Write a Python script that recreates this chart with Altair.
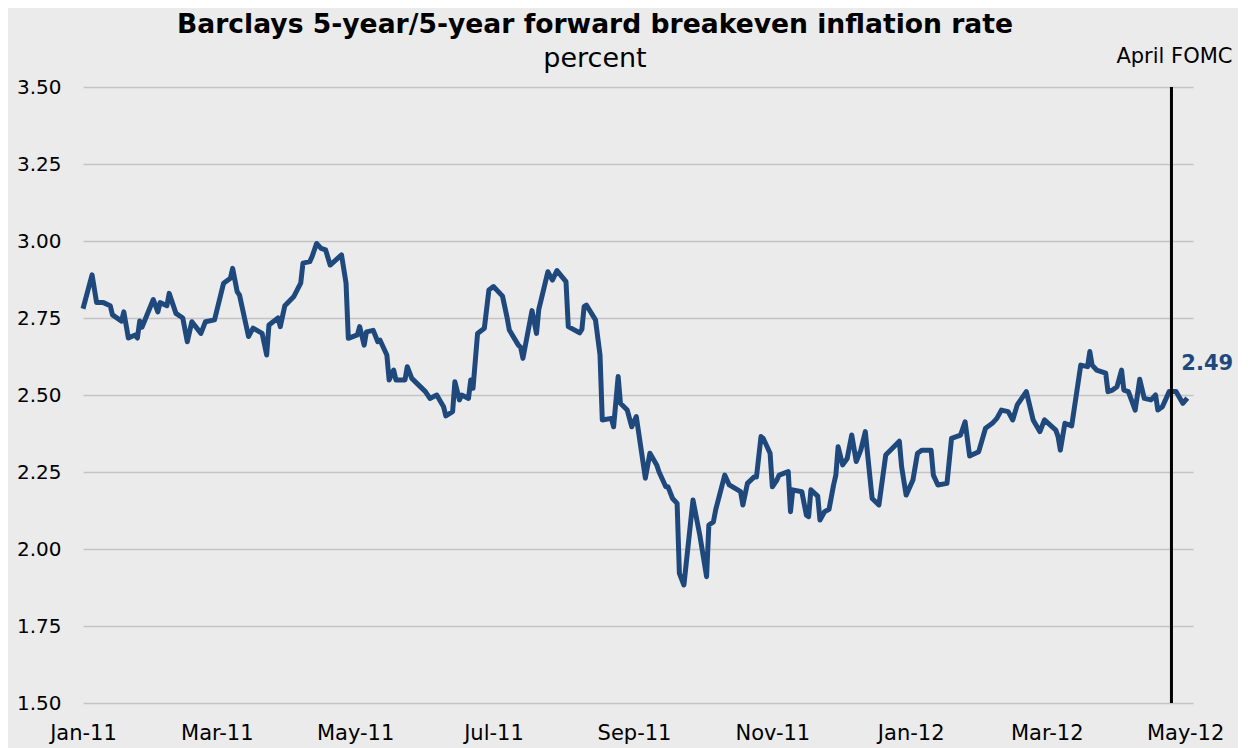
import altair as alt
import pandas as pd

# ---- data ----
dates = [
    "2011-01-01", "2011-01-05", "2011-01-07", "2011-01-10", "2011-01-13", "2011-01-14",
    "2011-01-18", "2011-01-19", "2011-01-21", "2011-01-24", "2011-01-25", "2011-01-26",
    "2011-01-27", "2011-02-01", "2011-02-03", "2011-02-04", "2011-02-07", "2011-02-08",
    "2011-02-11", "2011-02-14", "2011-02-16", "2011-02-18", "2011-02-22", "2011-02-24",
    "2011-02-28", "2011-03-04", "2011-03-07", "2011-03-08", "2011-03-10", "2011-03-11",
    "2011-03-15", "2011-03-17", "2011-03-21", "2011-03-23", "2011-03-24", "2011-03-28",
    "2011-03-29", "2011-03-31", "2011-04-04", "2011-04-07", "2011-04-08", "2011-04-11",
    "2011-04-12", "2011-04-14", "2011-04-16", "2011-04-18", "2011-04-20", "2011-04-25",
    "2011-04-27", "2011-04-28", "2011-05-02", "2011-05-03", "2011-05-05", "2011-05-06",
    "2011-05-09", "2011-05-11", "2011-05-12", "2011-05-15", "2011-05-16", "2011-05-18",
    "2011-05-19", "2011-05-23", "2011-05-24", "2011-05-26", "2011-06-01", "2011-06-03",
    "2011-06-06", "2011-06-09", "2011-06-10", "2011-06-13", "2011-06-14", "2011-06-16",
    "2011-06-17", "2011-06-20", "2011-06-21", "2011-06-22", "2011-06-24", "2011-06-27",
    "2011-06-29", "2011-07-01", "2011-07-05", "2011-07-07", "2011-07-08", "2011-07-12",
    "2011-07-13", "2011-07-14", "2011-07-18", "2011-07-20", "2011-07-21", "2011-07-22",
    "2011-07-25", "2011-07-27", "2011-07-29", "2011-08-02", "2011-08-03", "2011-08-08",
    "2011-08-09", "2011-08-10", "2011-08-11", "2011-08-15", "2011-08-17", "2011-08-18",
    "2011-08-22", "2011-08-23", "2011-08-25", "2011-08-26", "2011-08-29", "2011-08-31",
    "2011-09-02", "2011-09-06", "2011-09-08", "2011-09-11", "2011-09-12", "2011-09-15",
    "2011-09-16", "2011-09-18", "2011-09-20", "2011-09-21", "2011-09-23", "2011-09-27",
    "2011-09-30", "2011-10-03", "2011-10-04", "2011-10-06", "2011-10-07", "2011-10-11",
    "2011-10-13", "2011-10-18", "2011-10-19", "2011-10-21", "2011-10-24", "2011-10-25",
    "2011-10-27", "2011-10-28", "2011-10-31", "2011-11-01", "2011-11-03", "2011-11-04",
    "2011-11-08", "2011-11-09", "2011-11-10", "2011-11-14", "2011-11-16", "2011-11-17",
    "2011-11-18", "2011-11-21", "2011-11-22", "2011-11-24", "2011-11-26", "2011-11-28",
    "2011-11-29", "2011-11-30", "2011-12-02", "2011-12-04", "2011-12-06", "2011-12-08",
    "2011-12-10", "2011-12-12", "2011-12-14", "2011-12-15", "2011-12-18", "2011-12-21",
    "2011-12-27", "2011-12-28", "2011-12-30", "2012-01-02", "2012-01-04", "2012-01-06",
    "2012-01-10", "2012-01-11", "2012-01-13", "2012-01-17", "2012-01-19", "2012-01-23",
    "2012-01-25", "2012-01-27", "2012-01-31", "2012-02-03", "2012-02-06", "2012-02-08",
    "2012-02-10", "2012-02-13", "2012-02-15", "2012-02-17", "2012-02-21", "2012-02-24",
    "2012-02-27", "2012-02-29", "2012-03-05", "2012-03-06", "2012-03-07", "2012-03-09",
    "2012-03-12", "2012-03-16", "2012-03-19", "2012-03-20", "2012-03-21", "2012-03-23",
    "2012-03-27", "2012-03-28", "2012-03-30", "2012-04-01", "2012-04-03", "2012-04-04",
    "2012-04-06", "2012-04-09", "2012-04-11", "2012-04-13", "2012-04-16", "2012-04-18",
    "2012-04-19", "2012-04-21", "2012-04-24", "2012-04-27", "2012-04-30", "2012-05-02",
]

values = [
    2.78, 2.89, 2.80, 2.80, 2.79, 2.76,
    2.74, 2.77, 2.685, 2.695, 2.685, 2.74,
    2.72, 2.81, 2.77, 2.80, 2.79, 2.83,
    2.765, 2.75, 2.673, 2.738, 2.70, 2.738,
    2.744, 2.863, 2.879, 2.911, 2.835, 2.825,
    2.69, 2.717, 2.70, 2.63, 2.727, 2.75,
    2.722, 2.79, 2.82, 2.863, 2.928, 2.933,
    2.949, 2.992, 2.976, 2.971, 2.922, 2.955,
    2.863, 2.684, 2.695, 2.722, 2.662, 2.705,
    2.71, 2.673, 2.678, 2.63, 2.549, 2.581,
    2.549, 2.549, 2.592, 2.554, 2.511, 2.489,
    2.50, 2.462, 2.432, 2.446, 2.543, 2.484,
    2.50, 2.489, 2.549, 2.522, 2.70, 2.717,
    2.841, 2.852, 2.821, 2.752, 2.711, 2.662,
    2.655, 2.619, 2.774, 2.70, 2.778, 2.808,
    2.90, 2.873, 2.904, 2.868, 2.722, 2.702,
    2.713, 2.787, 2.792, 2.744, 2.63, 2.419,
    2.424, 2.397, 2.56, 2.473, 2.451, 2.397,
    2.43, 2.23, 2.311, 2.273, 2.251, 2.202,
    2.202, 2.164, 2.148, 1.921, 1.883, 2.159,
    2.045, 1.91, 2.078, 2.088, 2.127, 2.24,
    2.208, 2.186, 2.143, 2.213, 2.234, 2.234,
    2.365, 2.359, 2.311, 2.202, 2.224, 2.24,
    2.251, 2.121, 2.192, 2.186, 2.11, 2.105,
    2.192, 2.172, 2.094, 2.121, 2.129, 2.208,
    2.24, 2.332, 2.273, 2.294, 2.37, 2.284,
    2.321, 2.381, 2.235, 2.164, 2.143, 2.305,
    2.35, 2.267, 2.175, 2.224, 2.311, 2.321,
    2.321, 2.24, 2.208, 2.213, 2.359, 2.37,
    2.413, 2.302, 2.316, 2.392, 2.408, 2.424,
    2.451, 2.446, 2.419, 2.468, 2.511, 2.419,
    2.381, 2.419, 2.386, 2.365, 2.321, 2.408,
    2.40, 2.597, 2.592, 2.641, 2.597, 2.581,
    2.571, 2.511, 2.516, 2.527, 2.581, 2.516,
    2.511, 2.451, 2.551, 2.489, 2.484, 2.50,
    2.451, 2.462, 2.511, 2.511, 2.473, 2.49,
]

fomc_dates = ["2012-04-25"]
fomc_labels = ["April FOMC"]

y_ticks = [1.50, 1.75, 2.00, 2.25, 2.50, 2.75, 3.00, 3.25, 3.50]
x_tick_months = [(2011, 1), (2011, 3), (2011, 5), (2011, 7), (2011, 9), (2011, 11),
                 (2012, 1), (2012, 3), (2012, 5)]

title_text = "Barclays 5-year/5-year forward breakeven inflation rate"
subtitle_text = "percent"

LINE_COLOR = "#1F497D"
FONT = "DejaVu Sans"

df = pd.DataFrame({"date": pd.to_datetime(dates), "value": values})
last_df = df.tail(1)
fomc_df = pd.DataFrame({"date": pd.to_datetime(fomc_dates), "label": fomc_labels})

x_scale = alt.Scale(
    domain=[alt.DateTime(year=2011, month=1, date=1),
            alt.DateTime(year=2012, month=5, date=4, hours=12)],
    nice=False,
)
y_scale = alt.Scale(domain=[1.5, 3.5], nice=False, zero=False)

x_axis = alt.Axis(
    values=[alt.DateTime(year=y, month=m, date=1) for y, m in x_tick_months],
    format="%b-%y", grid=False, domain=False, ticks=False,
    labelFontSize=21, labelFont=FONT, labelColor="black", labelPadding=19,
    labelFlush=False, labelOverlap=False,
)
y_axis = alt.Axis(
    values=y_ticks, format=".2f", grid=True, gridColor="#C4C4C4", gridWidth=1.6,
    domain=False, ticks=False, labelFontSize=20, labelFont=FONT,
    labelColor="black", labelPadding=22,
)

base = alt.Chart(df)

line = base.mark_line(color=LINE_COLOR, strokeWidth=5, strokeJoin="round").encode(
    x=alt.X("date:T", scale=x_scale, axis=x_axis, title=None),
    y=alt.Y("value:Q", scale=y_scale, axis=y_axis, title=None),
)

rule = alt.Chart(fomc_df).mark_rule(color="black", strokeWidth=3).encode(
    x=alt.X("date:T"),
)

fomc_text = alt.Chart(fomc_df).mark_text(
    align="center", baseline="alphabetic", dx=3, dy=-24,
    fontSize=21, font=FONT, color="black",
).encode(
    x=alt.X("date:T"),
    y=alt.datum(3.5),
    text="label:N",
)

last_label = alt.Chart(last_df).mark_text(
    align="left", baseline="middle", dx=-6, dy=-34,
    fontSize=21, font=FONT, fontWeight="bold", color=LINE_COLOR,
).encode(
    x=alt.X("date:T"),
    y=alt.Y("value:Q"),
    text=alt.Text("value:Q", format=".2f"),
)

chart = alt.layer(line, rule, fomc_text, last_label).properties(
    width=1110,
    height=616,
    title=alt.TitleParams(
        text=title_text, subtitle=subtitle_text, anchor="middle", frame="group",
        dx=-43, offset=-26, font=FONT, fontSize=26.6, fontWeight="bold", color="black",
        subtitleFont=FONT, subtitleFontSize=27, subtitleColor="black",
        subtitlePadding=7,
    ),
    autosize=alt.AutoSizeParams(type="none"),
    padding={"left": 75, "top": 79, "right": 45, "bottom": 45},
    background="#EBEBEB",
).configure_view(strokeWidth=0)

chart.save("out.html", embed_options={"renderer": "svg", "actions": False})
